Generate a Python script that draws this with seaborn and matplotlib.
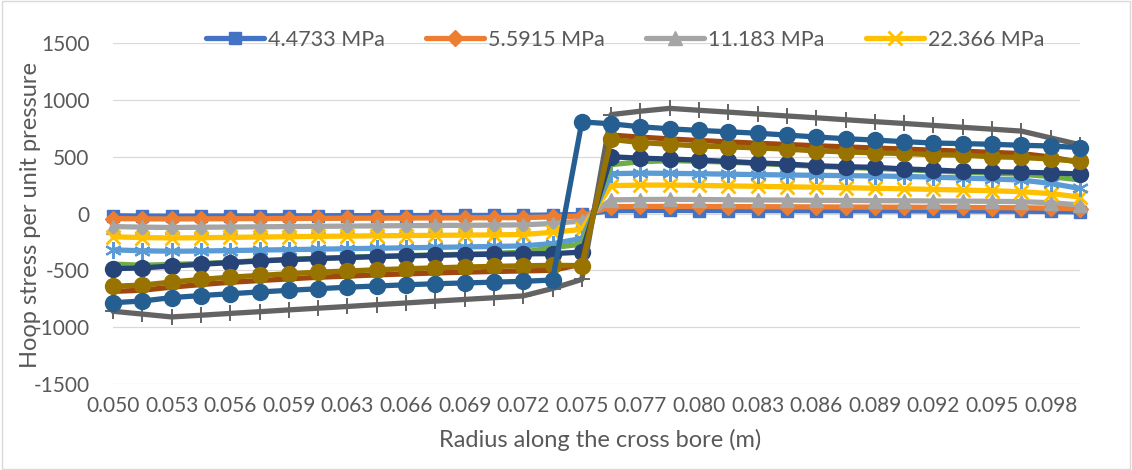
import matplotlib
matplotlib.use("Agg")
import matplotlib.pyplot as plt
from matplotlib.patches import Rectangle
from matplotlib.lines import Line2D
import seaborn as sns
import numpy as np
import pandas as pd

# ---- data -------------------------------------------------------------
positions = list(range(34))  # category slots along the cross bore (0.075 appears twice)
tick_positions = [0, 2, 4, 6, 8, 10, 12, 14, 16, 18, 20, 22, 24, 26, 28, 30, 32]
tick_labels = ["0.050", "0.053", "0.056", "0.059", "0.063", "0.066", "0.069", "0.072",
               "0.075", "0.077", "0.080", "0.083", "0.086", "0.089", "0.092", "0.095", "0.098"]

legend_names = ["4.4733 MPa", "5.5915 MPa", "11.183 MPa", "22.366 MPa"]

s1 = [-20, -22, -23, -22, -21, -21, -20, -20, -19, -19, -18, -18, -17, -17, -16, -13, -8,
      25, 26, 27, 26, 26, 25, 25, 24, 24, 23, 23, 22, 22, 21, 20, 18, 15]
s2 = [-45, -47, -48, -47, -46, -45, -44, -43, -42, -41, -40, -39, -38, -37, -36, -30, -22,
      60, 62, 63, 62, 61, 60, 59, 58, 57, 56, 55, 54, 53, 52, 50, 47, 42]
s3 = [-115, -120, -123, -121, -119, -117, -115, -113, -111, -109, -107, -105, -104, -102, -100, -88, -65,
      120, 123, 124, 123, 121, 119, 118, 116, 115, 113, 112, 110, 109, 107, 104, 95, 75]
s4 = [-205, -212, -215, -213, -210, -207, -204, -201, -199, -196, -194, -192, -190, -188, -185, -165, -140,
      245, 250, 250, 247, 243, 239, 235, 231, 227, 222, 217, 212, 206, 200, 192, 175, 145]
s5 = [-320, -328, -332, -330, -326, -322, -318, -314, -310, -306, -302, -298, -294, -290, -285, -265, -220,
      350, 355, 353, 350, 346, 342, 339, 336, 333, 330, 326, 320, 312, 304, 294, 265, 220]
s6 = [-445, -455, -448, -440, -428, -415, -403, -394, -385, -377, -370, -364, -358, -350, -340, -300, -270,
      430, 455, 465, 460, 452, 440, 428, 415, 405, 397, 385, 375, 363, 355, 345, 325, 295]
s7 = [-485, -479, -462, -447, -432, -418, -406, -397, -388, -379, -373, -368, -362, -359, -355, -353, -340,
      499, 487, 479, 470, 458, 445, 435, 420, 412, 406, 392, 383, 371, 368, 363, 357, 348]
s8 = [-685, -675, -648, -625, -605, -590, -575, -561, -551, -540, -531, -523, -516, -510, -505, -500, -445,
      690, 672, 656, 642, 630, 618, 607, 596, 586, 576, 567, 557, 548, 538, 527, 497, 448]
s9 = [-860, -885, -910, -895, -879, -864, -848, -833, -818, -802, -787, -771, -756, -741, -725, -660, -580,
      870, 900, 925, 908, 892, 875, 858, 842, 825, 808, 792, 775, 758, 742, 725, 665, 605]
s10 = [-640, -630, -603, -580, -560, -545, -530, -516, -506, -495, -486, -478, -471, -465, -460, -456, -458,
       652, 624, 609, 594, 586, 577, 566, 551, 542, 533, 528, 517, 513, 499, 493, 479, 458]
s11 = [-785, -770, -740, -722, -706, -690, -676, -662, -648, -638, -627, -618, -611, -604, -597, -585, 806,
       789, 763, 745, 731, 719, 706, 690, 673, 658, 646, 632, 620, 615, 609, 600, 594, 580]

series = [s1, s2, s3, s4, s5, s6, s7, s8, s9, s10, s11]

# ---- styles -----------------------------------------------------------
colors = ["#4472C4", "#ED7D31", "#A5A5A5", "#FFC000", "#5B9BD5", "#70AD47",
          "#264478", "#9E480E", "#636363", "#997300", "#255E91"]
markers = ["s", "D", "^", "x", (6, 2, 0), None, "o", None, "+", "o", "o"]
msizes = [8.5, 8, 10, 10, 12, 0, 11.5, 0, 11, 11.5, 11.5]
mews = [1, 1, 1, 2, 1.6, 1, 1, 1, 1.4, 1, 1]

sns.set_theme(style="white")
plt.rcParams["font.family"] = ["Lato", "DejaVu Sans"]
txt = "#595959"

fig = plt.figure(figsize=(11.32, 4.70), dpi=100)
ax = fig.add_axes([113 / 1132, 1 - 384 / 470, (1080 - 113) / 1132, (384 - 43) / 470])

for i, vals in enumerate(series):
    df = pd.DataFrame({"pos": positions, "val": vals})
    kw = dict(marker=markers[i], markersize=msizes[i], markeredgewidth=mews[i],
              markeredgecolor=colors[i], markerfacecolor=colors[i]) if markers[i] is not None else {}
    sns.lineplot(data=df, x="pos", y="val", ax=ax, color=colors[i], linewidth=3.8,
                 sort=False, estimator=None, clip_on=False, solid_joinstyle="round", **kw)

ax.set_xlim(0, 33)
ax.set_ylim(-1500, 1500)
ax.set_yticks([-1500, -1000, -500, 0, 500, 1000, 1500])
ax.set_yticklabels(["-1500", "-1000", "-500", "0", "500", "1000", "1500"])
ax.set_xticks(tick_positions)
ax.set_xticklabels(tick_labels)
ax.tick_params(axis="both", length=0, labelsize=15, colors=txt)
ax.tick_params(axis="y", pad=17)
ax.tick_params(axis="x", pad=9)
ax.grid(axis="y", color="#D9D9D9", linewidth=0.9)
ax.grid(axis="x", visible=False)
ax.set_axisbelow(True)
for sp in ax.spines.values():
    sp.set_visible(False)
ax.set_xlabel("")
ax.set_ylabel("")
ax.patch.set_alpha(0)

fig.text(31 / 1132, 1 - 215 / 470, "Hoop stress per unit pressure", rotation=90,
         ha="center", va="center", fontsize=17, color=txt)
fig.text(600 / 1132, 1 - 440 / 470, "Radius along the cross bore (m)",
         ha="center", va="center", fontsize=17, color=txt)

handles = [Line2D([], [], color=colors[i], linewidth=3.8, marker=markers[i],
                  markersize=msizes[i], markeredgewidth=mews[i],
                  markeredgecolor=colors[i], markerfacecolor=colors[i]) for i in range(4)]
leg = fig.legend(handles, legend_names, loc="center", bbox_to_anchor=(625 / 1132, 1 - 40 / 470),
                 ncol=4, frameon=False, fontsize=15.5, handlelength=2.7, handletextpad=0.2,
                 columnspacing=1.9, numpoints=1)
for t in leg.get_texts():
    t.set_color(txt)

fig.patches.append(Rectangle((0.0015, 0.002), 0.997, 0.996, transform=fig.transFigure,
                             fill=False, edgecolor="#D9D9D9", linewidth=1))

fig.savefig("out.png", dpi=100)
